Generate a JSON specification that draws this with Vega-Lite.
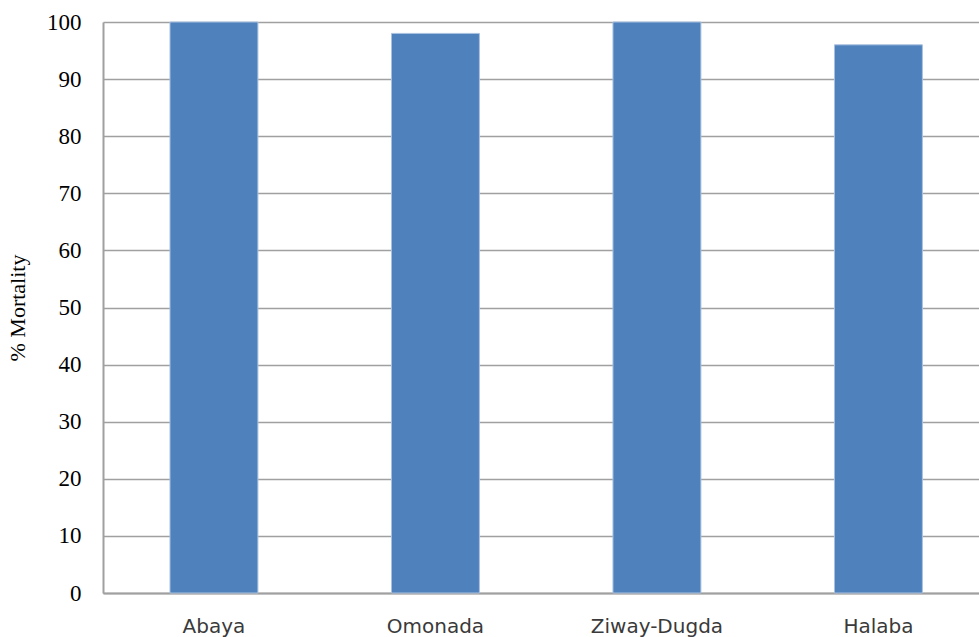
{
  "$schema": "https://vega.github.io/schema/vega-lite/v6.json",
  "autosize": {"type": "none"},
  "padding": {"left": 103, "top": 22, "right": 0, "bottom": 44},
  "width": 876,
  "height": 571,
  "background": "white",
  "config": {
    "view": {"stroke": null},
    "axis": {"grid": false}
  },
  "data": {
    "values": [
      {"site": "Abaya", "mortality": 100},
      {"site": "Omonada", "mortality": 98},
      {"site": "Ziway-Dugda", "mortality": 100},
      {"site": "Halaba", "mortality": 96}
    ]
  },
  "mark": {"type": "bar", "color": "#4f81bd", "stroke": "#a9c1df", "strokeWidth": 1},
  "encoding": {
    "x": {
      "field": "site",
      "type": "nominal",
      "sort": null,
      "scale": {"paddingInner": 0.603, "paddingOuter": 0.279, "align": 0.542},
      "axis": {
        "title": null,
        "labelAngle": 0,
        "labelFont": "DejaVu Sans",
        "labelFontSize": 20,
        "labelColor": "#3a3a3a",
        "labelPadding": 23,
        "ticks": false,
        "domainColor": "#a0a0a0",
        "domainWidth": 2
      }
    },
    "y": {
      "field": "mortality",
      "type": "quantitative",
      "scale": {"domain": [0, 100], "nice": false},
      "axis": {
        "title": "% Mortality",
        "titleFont": "Liberation Serif",
        "titleFontSize": 22,
        "titleFontWeight": "normal",
        "titleColor": "#000000",
        "titlePadding": 17,
        "values": [0, 10, 20, 30, 40, 50, 60, 70, 80, 90, 100],
        "labelFont": "Liberation Serif",
        "labelFontSize": 23,
        "labelColor": "#000000",
        "labelPadding": 22,
        "ticks": false,
        "grid": true,
        "gridColor": "#a0a0a0",
        "gridWidth": 1.5,
        "domainColor": "#a0a0a0",
        "domainWidth": 2
      }
    }
  }
}
